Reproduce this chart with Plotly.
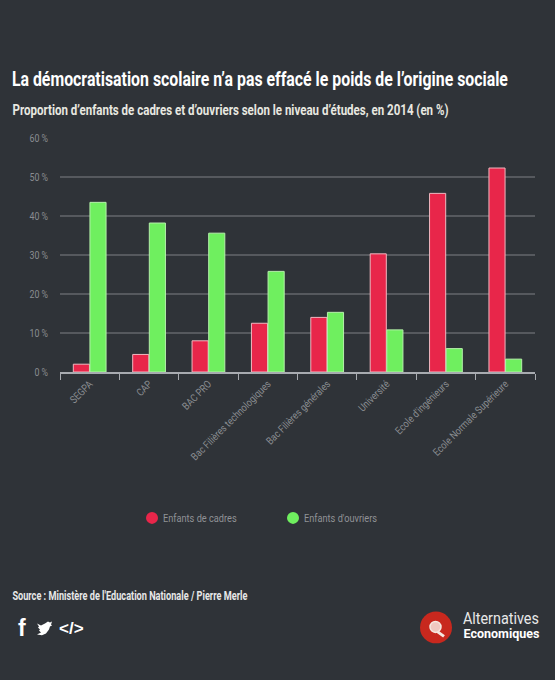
import json
import plotly.graph_objects as go

categories = ["SEGPA", "CAP", "BAC PRO", "Bac Filières technologiques", "Bac Filières générales",
              "Université", "Ecole d'ingénieurs", "Ecole Normale Supérieure"]
cadres = [2, 4.5, 8, 12.5, 14, 30.3, 45.8, 52.3]
ouvriers = [43.5, 38.2, 35.6, 25.8, 15.3, 10.8, 6, 3.3]
y_ticks = [0, 10, 20, 30, 40, 50, 60]
y_labels = ["0 %", "10 %", "20 %", "30 %", "40 %", "50 %", "60 %"]

TITLE = "La démocratisation scolaire n’a pas effacé le poids de l’origine sociale"
SUBTITLE = "Proportion d’enfants de cadres et d’ouvriers selon le niveau d’études, en 2014 (en %)"
SOURCE = "Source : Ministère de l'Education Nationale / Pierre Merle"

BG = "#2f3338"
RED = "#e8264a"
GREEN = "#6fef5f"
FONT = "Roboto, sans-serif"

fig = go.Figure()
fig.add_bar(x=categories, y=cadres, name="Enfants de cadres", marker=dict(color=RED, line=dict(color="#f0b8c0", width=1)), showlegend=False)
fig.add_bar(x=categories, y=ouvriers, name="Enfants d'ouvriers", marker=dict(color=GREEN, line=dict(color="#b5f0aa", width=1)), showlegend=False)
for name, col in [("Enfants de cadres", RED), ("Enfants d'ouvriers", GREEN)]:
    fig.add_scatter(x=[None], y=[None], mode="markers", name=name, marker=dict(color=col, size=14))

L, R, T, B = 60, 535, 137.5, 372.5
W, H = 555, 680
px = lambda v: (v - L) / (R - L)
py = lambda v: (B - v) / (B - T)

def note(text, x, y, size, color="#f2f2f2", bold=False, family=FONT):
    fig.add_annotation(xref="paper", yref="paper", x=px(x), y=py(y), text=f"<b>{text}</b>" if bold else text,
                       showarrow=False, xanchor="center", yanchor="middle",
                       font=dict(size=size, color=color, family=family))

note(TITLE, 260, 78, 20, "#ffffff", True)
note(SUBTITLE, 230, 109, 15, "#e8e8e0", True)
note(SOURCE, 129.5, 597, 12, "#e8e8e8", True)
note("f", 22, 630, 23, "#ffffff", True, "Liberation Sans")
note("</>", 71, 630, 17, "#ffffff", True, "Liberation Sans")
note("Alternatives", 501, 620, 17, "#e8e8e8")
note("Economiques", 501, 635, 13, "#ffffff", True)

def shape_path(points):
    return "M" + " L".join(f"{px(a):.4f},{py(b):.4f}" for a, b in points) + " Z"

bird = [(37, 625), (41, 627), (45, 625), (48, 623), (50, 624), (52, 623), (51, 626), (52, 627), (50, 628),
        (49, 631), (46, 635), (42, 637), (37, 636), (41, 634), (39, 632), (40, 631), (38, 629), (39, 628)]
shapes = [dict(type="path", xref="paper", yref="paper", path=shape_path(bird), fillcolor="#ffffff", line=dict(width=0)),
          dict(type="circle", xref="paper", yref="paper", x0=px(420), x1=px(452), y0=py(645), y1=py(613), fillcolor="#c8281e", line=dict(width=0)),
          dict(type="line", xref="paper", yref="paper", x0=px(437), x1=px(444), y0=py(633), y1=py(638), line=dict(color="#f5e8e0", width=3)),
          dict(type="circle", xref="paper", yref="paper", x0=px(430), x1=px(441), y0=py(634), y1=py(623), fillcolor="#f0c8c0", line=dict(color="#f5e8e0", width=1.5))]

fig.update_layout(
    width=W, height=H, paper_bgcolor=BG, plot_bgcolor=BG,
    margin=dict(l=L, r=W - R, t=T, b=H - B, pad=0),
    barmode="group", bargap=0.44, bargroupgap=0.03,
    font=dict(family=FONT, color="#8f9296"),
    shapes=shapes,
    legend=dict(orientation="h", x=px(132), y=py(519), xanchor="left", yanchor="middle",
                entrywidth=96, entrywidthmode="pixels", font=dict(size=11.5, color="#8f9296"),
                bgcolor="rgba(0,0,0,0)", itemsizing="constant"),
    xaxis=dict(type="category", categoryorder="array", categoryarray=categories, tickson="boundaries",
               ticks="outside", ticklen=6, tickcolor="#a8abb0", tickwidth=1, showline=True, linecolor="#a8abb0", linewidth=1.5,
               tickangle=-45, tickfont=dict(size=10.5, color="#8a8d91"), showgrid=False),
    yaxis=dict(range=[0, 60], tickvals=y_ticks, ticktext=y_labels, gridcolor="#56595e", gridwidth=1.5,
               zeroline=False, tickfont=dict(size=10.5, color="#8a8d91"), ticks="", ticklabelstandoff=11),
)

widths = {TITLE: 496, SUBTITLE: 436, SOURCE: 235, "Alternatives": 76, "Economiques": 76}
post = """
document.body.style.margin='0';
var targets = %s;
function squeeze(t, w){ t.setAttribute('lengthAdjust','spacingAndGlyphs'); t.setAttribute('textLength', w); }
document.querySelectorAll('.annotation-text').forEach(function(t){
  var w = targets[t.textContent]; if (w) squeeze(t, w);
});
document.querySelectorAll('.xtick text, .ytick text').forEach(function(t){
  squeeze(t, t.getComputedTextLength()*0.84);
});
document.querySelectorAll('.legendtext').forEach(function(t){
  squeeze(t, t.getComputedTextLength()*0.8);
  t.setAttribute('x', parseFloat(t.getAttribute('x'))-9);
});
""" % json.dumps(widths, ensure_ascii=False)
fig.write_html("out.html", post_script=post, config={"displayModeBar": False})
